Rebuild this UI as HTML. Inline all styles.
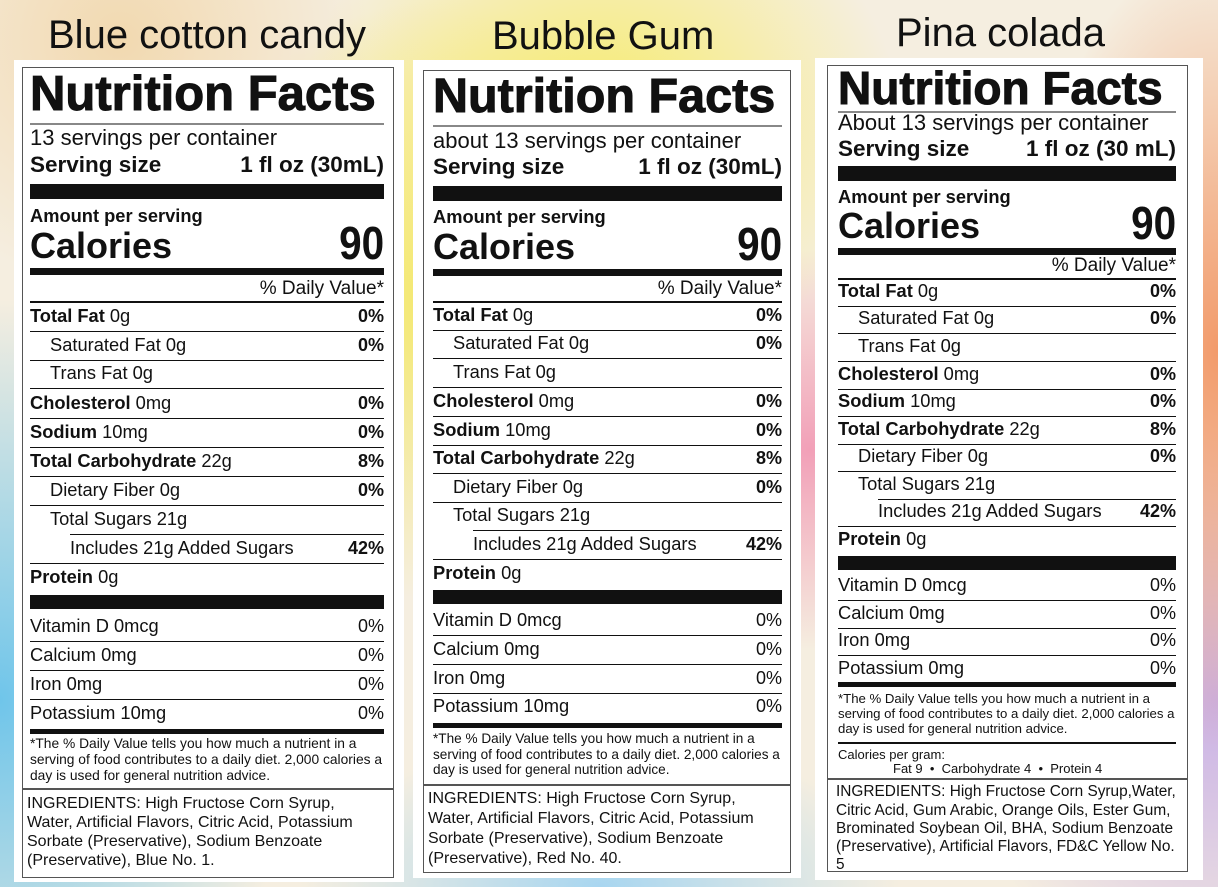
<!DOCTYPE html>
<html><head><meta charset="utf-8"><style>
html,body{margin:0;padding:0}
body{width:1218px;height:887px;position:relative;overflow:hidden;font-family:"Liberation Sans",Arial,sans-serif;color:#111;
background:
radial-gradient(ellipse 300px 250px at 600px 120px,#f7ec6a 0%,rgba(247,236,106,0) 100%),
radial-gradient(ellipse 260px 300px at 440px 300px,#f4e86a 0%,rgba(244,232,106,0) 100%),
radial-gradient(ellipse 300px 400px at 0px 700px,#6fc5ea 0%,rgba(111,197,234,0) 100%),
radial-gradient(ellipse 250px 250px at 120px 40px,#f2d9b0 0%,rgba(242,217,176,0) 100%),
radial-gradient(ellipse 200px 400px at 1218px 350px,#f29a6a 0%,rgba(242,154,106,0) 100%),
radial-gradient(ellipse 260px 300px at 1218px 700px,#c9b0e6 0%,rgba(201,176,230,0) 100%),
radial-gradient(ellipse 250px 200px at 810px 450px,#f2a0b8 0%,rgba(242,160,184,0) 100%),
radial-gradient(ellipse 300px 150px at 600px 887px,#a8d6f0 0%,rgba(168,214,240,0) 100%),
#f5eee0;}
.a{position:absolute;white-space:nowrap;line-height:1}
.w{position:absolute;background:#fff}
.bx{position:absolute;border:1.5px solid #555;box-sizing:border-box}
.l{position:absolute;background:#111}
.t{position:absolute;font-size:40px;color:#111;line-height:1;white-space:nowrap}
.nf{-webkit-text-stroke:1px #111}
</style></head><body>
<div class="t" style="left:48px;top:15px">Blue cotton candy</div>
<div class="t" style="left:492px;top:16px">Bubble Gum</div>
<div class="t" style="left:896px;top:13px">Pina colada</div>
<div class="w" style="left:14px;top:60px;width:390px;height:822px"></div>
<div class="w" style="left:413px;top:60px;width:388px;height:818px"></div>
<div class="w" style="left:815px;top:58px;width:388px;height:822px"></div>
<div id="root"></div>
<script>
var R=document.getElementById('root'),h='';
function T(x,y,s,sz,b,al,cls){var st='font-size:'+sz+'px;top:'+(y-sz*0.55)+'px;font-weight:'+(b?'bold':'normal')+';';
 if(al==='r')st+='right:'+(1218-x)+'px;';else if(al==='c')st+='left:'+x+'px;transform:translateX(-50%);';else st+='left:'+x+'px;';
 h+='<div class="a '+(cls||'')+'" style="'+st+'">'+s+'</div>';}
function L(x0,x1,y,t,col){h+='<div class="l" style="left:'+x0+'px;width:'+(x1-x0)+'px;top:'+y+'px;height:'+t+'px'+(col?';background:'+col:'')+'"></div>';}
function B(x0,y0,x1,y1){h+='<div class="bx" style="left:'+x0+'px;top:'+y0+'px;width:'+(x1-x0)+'px;height:'+(y1-y0)+'px"></div>';}
function panel(c){
 var a=c.x0,b=c.x1;
 B(c.bx0,c.by0,c.bx1,c.by1);B(c.bx0,c.by1,c.bx1,c.iy1);
 T(a,c.nf,'Nutrition Facts',c.nfs,1,0,'nf');
 L(a,b,c.nfl,1.5,'#888');
 T(a,c.sp,c.spt,22,0);
 T(a,c.ss,'Serving size',22.5,1);T(b,c.ss,c.sst,22.5,1,'r');
 L(a,b,c.bar1,c.bar1h);
 T(a,c.am,'Amount per serving',18.3,1);
 T(a,c.cal,'Calories',36,1);T(b,c.cal-3,'<span style="display:inline-block;transform:scaleX(0.88);transform-origin:right">90</span>',46,1,'r');
 L(a,b,c.bar2,7);
 T(b,c.dv,'% Daily Value*',19,0,'r');
 L(a,b,c.dv+12,1.5);
 var rows=[['<b>Total Fat</b> 0g','0%',0],['Saturated Fat 0g','0%',1],['Trans Fat 0g','',1],['<b>Cholesterol</b> 0mg','0%',0],['<b>Sodium</b> 10mg','0%',0],['<b>Total Carbohydrate</b> 22g','8%',0],['Dietary Fiber 0g','0%',1],['Total Sugars 21g','',1],['Includes 21g Added Sugars','42%',2],['<b>Protein</b> 0g','',0]];
 for(var i=0;i<10;i++){var y=c.r[i];T(a+rows[i][2]*20,y,rows[i][0],18.3,0);if(rows[i][1])T(b,y,rows[i][1],18,1,'r');
  if(i<9)L(a+(i==7?40:0),b,y+14,1.2);}
 L(a,b,c.bar3,14);
 var v=[['Vitamin D 0mcg'],['Calcium 0mg'],['Iron 0mg'],[c.pot]];
 for(i=0;i<4;i++){T(a,c.v[i],v[i][0],18.3,0);T(b,c.v[i],'0%',18,0,'r');if(i<3)L(a,b,c.v[i]+14,1.2);}
 L(a,b,c.bar4,5);
 var f=['*The % Daily Value tells you how much a nutrient in a','serving of food contributes to a daily diet. 2,000 calories a','day is used for general nutrition advice.'];
 for(i=0;i<3;i++)T(a,c.f[i],f[i],c.fs,0);
 if(c.cpg){L(a,b,c.f[2]+13,1.5);T(a,755,'Calories per gram:',13,0);T(a+55,769,'Fat 9 &nbsp;•&nbsp; Carbohydrate 4 &nbsp;•&nbsp; Protein 4',13,0);}
 for(i=0;i<c.ing.length;i++)T(c.ix,c.iy[i],c.ing[i],c.is,0);
}
panel({x0:30,x1:384,bx0:22,bx1:394,by0:67,by1:789,iy1:878,nf:97,nfl:123,nfs:49,sp:139,spt:'13 servings per container',ss:166,sst:'1 fl oz (30mL)',bar1:184,bar1h:15,am:217,cal:248,bar2:268,dv:289,
 r:[317,346,374,404,433,462,491,520,549,578],bar3:595,v:[627,656,685,714],pot:'Potassium 10mg',bar4:729,f:[745,761,777],fs:13.8,is:16,
 ix:27,iy:[805,824,843,862],ing:['INGREDIENTS: High Fructose Corn Syrup,','Water, Artificial Flavors, Citric Acid, Potassium','Sorbate (Preservative), Sodium Benzoate','(Preservative), Blue No. 1.']});
panel({x0:433,x1:782,bx0:423,bx1:791,by0:70,by1:785,iy1:873,nf:99,nfl:125,nfs:48.5,sp:142,spt:'about 13 servings per container',ss:168,sst:'1 fl oz (30mL)',bar1:186,bar1h:15,am:218,cal:249,bar2:269,dv:289,
 r:[316,344,373,402,431,459,488,516,545,574],bar3:590,v:[621,650,679,707],pot:'Potassium 10mg',bar4:723,f:[739,755,770],fs:13.6,is:16,
 ix:428,iy:[800,820,840,860],ing:['INGREDIENTS: High Fructose Corn Syrup,','Water, Artificial Flavors, Citric Acid, Potassium','Sorbate (Preservative), Sodium Benzoate','(Preservative), Red No. 40.']});
panel({x0:838,x1:1176,bx0:827,bx1:1188,by0:65,by1:779,iy1:872,nf:90,nfl:111,nfs:46,sp:124,spt:'About 13 servings per container',ss:150,sst:'1 fl oz (30 mL)',bar1:166,bar1h:15,am:198,cal:228,bar2:248,dv:266,
 r:[292,319,347,375,402,430,457,485,512,540],bar3:556,v:[586,614,641,669],pot:'Potassium 0mg',bar4:682,f:[699,714,729],fs:13.2,cpg:1,is:15.4,
 ix:836,iy:[792,811,829,847,865],ing:['INGREDIENTS: High Fructose Corn Syrup,Water,','Citric Acid, Gum Arabic, Orange Oils, Ester Gum,','Brominated Soybean Oil, BHA, Sodium Benzoate','(Preservative), Artificial Flavors, FD&amp;C Yellow No.','5']});
R.innerHTML=h;
</script>
</body></html>
